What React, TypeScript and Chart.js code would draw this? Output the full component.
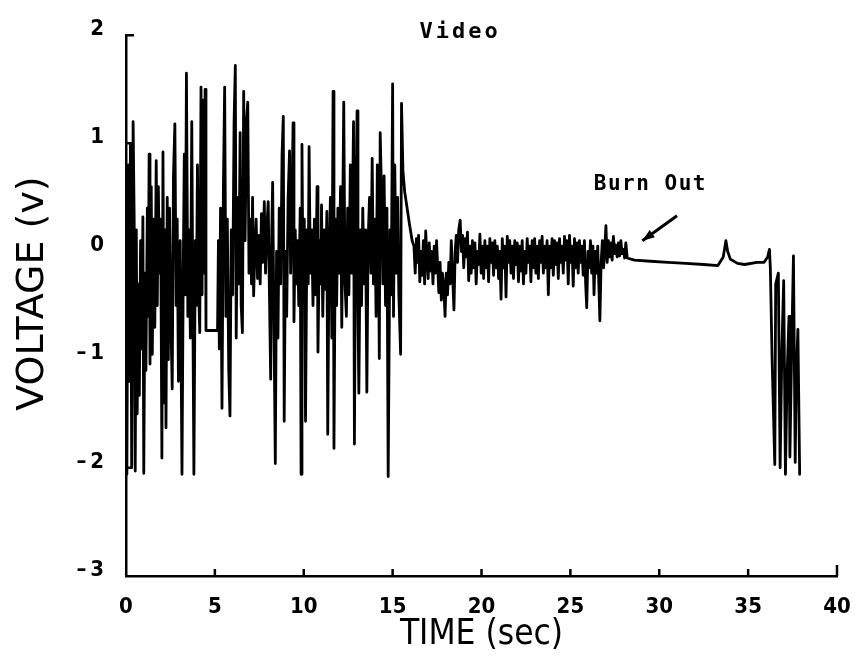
import React, { useEffect, useRef } from 'react';
import { Chart, registerables } from 'chart.js';
Chart.register(...registerables);

// ---- data (time in sec, voltage in V) ----
const burstTime = [0.0, 0.05, 0.12, 0.18, 0.25, 0.32, 0.4, 0.46, 0.52, 0.58, 0.63, 0.7, 0.75, 0.82, 0.88, 0.95, 1.0, 1.07, 1.12, 1.2, 1.25, 1.3, 1.35, 1.42, 1.48, 1.55, 1.62, 1.7, 1.76, 1.82, 1.88, 1.95, 2.02, 2.08, 2.14, 2.2, 2.25, 2.32, 2.38, 2.45, 2.52, 2.6, 2.67, 2.75, 2.82, 2.88, 2.95, 3.05, 3.15, 3.22, 3.28, 3.34, 3.4, 3.48, 3.55, 3.62, 3.7, 3.76, 3.82, 3.9, 3.96, 4.02, 4.08, 4.15, 4.22, 4.28, 4.34, 4.4, 4.45, 4.5, 5.15, 5.2, 5.25, 5.32, 5.4, 5.48, 5.55, 5.62, 5.7, 5.78, 5.85, 5.92, 6.0, 6.08, 6.15, 6.2, 6.28, 6.35, 6.42, 6.48, 6.55, 6.62, 6.7, 6.78, 6.85, 6.92, 7.0, 7.06, 7.12, 7.18, 7.25, 7.32, 7.4, 7.47, 7.55, 7.62, 7.7, 7.78, 7.85, 7.92, 8.0, 8.07, 8.14, 8.2, 8.25, 8.32, 8.4, 8.47, 8.55, 8.62, 8.7, 8.78, 8.85, 8.9, 8.97, 9.04, 9.12, 9.2, 9.26, 9.32, 9.4, 9.45, 9.52, 9.58, 9.65, 9.72, 9.8, 9.85, 9.9, 9.96, 10.03, 10.1, 10.18, 10.25, 10.3, 10.37, 10.45, 10.52, 10.6, 10.67, 10.75, 10.8, 10.88, 10.95, 11.0, 11.07, 11.15, 11.22, 11.3, 11.35, 11.42, 11.5, 11.58, 11.65, 11.7, 11.78, 11.85, 11.92, 12.0, 12.07, 12.14, 12.2, 12.25, 12.32, 12.4, 12.47, 12.54, 12.62, 12.7, 12.8, 12.85, 12.92, 13.0, 13.05, 13.1, 13.18, 13.25, 13.32, 13.4, 13.48, 13.55, 13.62, 13.7, 13.78, 13.85, 13.92, 14.0, 14.07, 14.14, 14.2, 14.25, 14.3, 14.38, 14.45, 14.52, 14.6, 14.68, 14.75, 14.85, 14.92, 15.0, 15.05, 15.12, 15.2, 15.28, 15.35, 15.45, 15.5, 15.58, 15.68, 15.8, 15.95, 16.1];
const burstVolt = [-0.05, -2.06, 0.8, -1.2, 1.0, -2.0, 1.2, 0.3, -2.03, 0.2, -1.5, -0.3, -1.33, 0.1, -0.9, 0.32, -2.05, -0.2, -1.1, 0.4, -0.6, 0.9, -1.04, 0.6, -0.95, 0.3, -0.7, 0.84, -0.5, 0.6, -0.2, 0.3, -1.91, 0.92, -1.4, 0.2, -1.63, 0.5, -1.0, 0.4, -0.6, -1.27, 0.7, 1.18, -0.5, 0.3, -1.2, 0.1, -2.06, -0.2, 0.9, -0.4, 1.65, -0.6, 0.2, -0.8, 1.2, -0.5, -2.06, 0.1, -0.5, 0.8, -0.3, -0.75, 1.52, -0.4, 1.4, -0.2, 1.5, -0.73, -0.73, 0.1, -0.9, 0.4, -1.45, 0.6, 1.52, -0.6, 0.3, -1.1, -1.52, 0.2, -0.4, 1.2, 1.72, -0.8, 0.5, -0.3, 1.1, -0.5, -0.75, 1.48, 0.1, 1.2, 1.38, -0.2, 0.3, -0.3, 0.5, -0.41, 0.0, 0.3, -0.25, 0.15, -0.3, 0.35, -0.1, 0.46, -0.2, 0.2, 0.46, -0.4, -1.18, 0.2, 0.64, -0.6, -1.96, 0.0, -0.8, 0.4, -0.3, 0.9, 1.25, -1.57, 0.0, -0.6, 0.5, 0.93, -0.2, 0.3, 1.19, -0.65, 0.2, -0.3, 0.1, -0.5, 0.4, -2.06, 0.99, -0.4, 0.3, -1.57, 0.2, -0.3, 0.97, -0.2, 0.2, -0.5, 0.3, -0.4, 0.6, -0.93, 0.1, -0.3, 0.43, -0.6, 0.2, -0.35, 0.37, -1.69, -0.1, 0.5, -0.8, 1.48, -1.82, 0.3, -0.5, 0.4, -0.2, 0.6, -0.7, 0.5, 1.38, -0.3, -0.6, 0.4, -0.4, 0.8, -0.2, 1.2, -1.78, 0.3, 1.3, -0.5, -1.31, 0.2, -0.5, 0.4, -0.3, 0.2, -1.3, 0.1, 0.5, -0.2, 0.86, -0.3, 0.3, -0.6, 0.8, 0.2, -0.99, 1.1, 0.5, -0.3, 0.7, -0.5, 0.4, -2.08, 0.2, -0.4, 1.55, -0.6, 0.8, -0.2, 0.5, -0.4, -0.95, 1.37, 0.75, 0.55, 0.42, 0.25, 0.1];

const noiseTime = [16.2, 16.27, 16.34, 16.4, 16.46, 16.53, 16.6, 16.66, 16.73, 16.8, 16.86, 16.93, 17.0, 17.06, 17.13, 17.2, 17.27, 17.34, 17.4, 17.47, 17.54, 17.6, 17.67, 17.74, 17.8, 17.87, 17.95, 18.02, 18.09, 18.16, 18.23, 18.3, 18.37, 18.45, 18.52, 18.58, 18.65, 18.72, 18.8, 18.87, 18.94, 19.0, 19.07, 19.14, 19.21, 19.28, 19.35, 19.42, 19.49, 19.56, 19.63, 19.7, 19.77, 19.84, 19.91, 19.98, 20.05, 20.12, 20.19, 20.26, 20.33, 20.4, 20.47, 20.54, 20.61, 20.68, 20.75, 20.82, 20.89, 20.96, 21.03, 21.1, 21.17, 21.24, 21.31, 21.38, 21.45, 21.52, 21.59, 21.66, 21.73, 21.8, 21.87, 21.94, 22.01, 22.08, 22.15, 22.22, 22.29, 22.36, 22.43, 22.5, 22.57, 22.64, 22.71, 22.78, 22.85, 22.92, 22.99, 23.06, 23.13, 23.2, 23.27, 23.34, 23.41, 23.48, 23.55, 23.62, 23.69, 23.76, 23.83, 23.9, 23.97, 24.04, 24.11, 24.18, 24.25, 24.32, 24.39, 24.46, 24.53, 24.6, 24.67, 24.74, 24.81, 24.88, 24.95, 25.02, 25.09, 25.16, 25.23, 25.3, 25.37, 25.44, 25.51, 25.58, 25.65, 25.72, 25.79, 25.86, 25.92, 25.99, 26.06, 26.13, 26.2, 26.27, 26.33, 26.4, 26.47, 26.54, 26.6, 26.66, 26.73, 26.8, 26.87, 26.94, 27.0, 27.07, 27.14, 27.21, 27.28, 27.35, 27.42, 27.49, 27.56, 27.63, 27.7, 27.77, 27.84, 27.91, 27.98, 28.05, 28.12, 28.2];
const noiseVolt = [0.05, -0.2, 0.12, -0.1, 0.15, -0.28, 0.0, -0.22, 0.1, -0.3, 0.19, -0.05, -0.25, 0.08, -0.18, 0.0, -0.3, 0.05, -0.2, 0.1, -0.15, -0.38, -0.1, -0.45, -0.2, -0.3, -0.6, -0.2, -0.4, -0.1, -0.3, 0.1, -0.2, -0.54, 0.0, 0.15, -0.1, 0.2, 0.29, 0.0, 0.15, -0.15, 0.12, -0.05, 0.18, -0.27, 0.05, -0.2, 0.1, -0.15, 0.08, -0.3, 0.0, -0.12, 0.16, -0.2, 0.05, -0.25, 0.1, -0.15, 0.05, -0.28, 0.12, -0.1, 0.08, -0.22, 0.1, -0.15, 0.05, -0.25, 0.0, -0.44, 0.12, -0.15, 0.05, -0.42, 0.14, -0.1, 0.1, -0.2, 0.05, -0.25, 0.1, -0.12, 0.08, -0.28, 0.05, -0.18, 0.1, -0.3, 0.0, -0.2, 0.12, -0.1, 0.05, -0.28, 0.1, -0.15, 0.12, -0.2, 0.05, -0.25, 0.1, -0.1, 0.14, -0.2, 0.05, -0.15, 0.1, -0.4, 0.05, -0.15, 0.12, -0.22, 0.1, -0.12, 0.08, -0.25, 0.12, -0.1, 0.05, -0.2, 0.14, -0.08, 0.1, -0.3, 0.15, -0.1, 0.05, -0.32, 0.12, -0.15, 0.08, -0.2, 0.1, -0.1, 0.05, -0.22, 0.1, -0.3, -0.52, 0.0, -0.15, 0.1, -0.2, 0.05, -0.4, 0.0, -0.2, 0.05, -0.3, -0.64, -0.1, 0.1, -0.15, 0.05, 0.24, -0.1, 0.1, -0.05, 0.08, -0.08, 0.14, -0.02, 0.06, -0.05, 0.08, -0.04, 0.1, -0.02, 0.02, -0.06, 0.08, -0.06];

const quietTime = [28.6, 29.5, 30.5, 31.5, 32.5, 33.3, 33.6, 33.75, 33.85, 34.0, 34.4, 34.8, 35.5, 35.9, 36.1, 36.2, 36.25];
const quietVolt = [-0.08, -0.09, -0.1, -0.11, -0.12, -0.13, -0.05, 0.1, 0.0, -0.07, -0.11, -0.12, -0.1, -0.1, -0.05, 0.02, -0.15];

const failTime = [36.35, 36.5, 36.55, 36.7, 36.8, 36.9, 37.0, 37.1, 37.2, 37.3, 37.35, 37.45, 37.55, 37.65, 37.7, 37.8, 37.9];
const failVolt = [-1.0, -1.97, -0.3, -0.2, -2.0, -0.9, -0.27, -2.06, -1.1, -0.6, -1.9, -0.9, -0.04, -1.95, -1.2, -0.72, -2.06];

const xTicks = [0, 5, 10, 15, 20, 25, 30, 35, 40];
const yTicks = [-3, -2, -1, 0, 1, 2];

const titleText = 'Video';
const noteText = 'Burn Out';
const xTitle = 'TIME (sec)';
const yTitle = '  VOLTAGE (v)';

// annotation anchors in data units
const titleAt = { t: 18.8, v: 2.03 };
const noteAt = { t: 29.5, v: 0.62 };
const arrowFrom = { t: 31.0, v: 0.33 };
const arrowTo = { t: 29.05, v: 0.1 };

const tickFont = "'DejaVu Sans Condensed', 'Liberation Sans', sans-serif";

const decor = {
  id: 'decor',
  afterDraw(chart: any) {
    const { ctx, chartArea: a, scales } = chart;
    const x = scales.x;
    const y = scales.y;
    ctx.save();
    ctx.strokeStyle = '#000';
    ctx.fillStyle = '#000';
    ctx.lineWidth = 2.5;
    ctx.beginPath();
    xTicks.forEach((v) => {
      if (v === 0) return;
      const px = x.getPixelForValue(v);
      ctx.moveTo(px, a.bottom);
      ctx.lineTo(px, a.bottom - (v === 40 ? 11 : 7));
    });
    yTicks.forEach((v) => {
      if (v === -3) return;
      const py = y.getPixelForValue(v);
      ctx.moveTo(a.left, py);
      ctx.lineTo(a.left + (v === 2 ? 8 : 5), py);
    });
    ctx.stroke();

    ctx.textAlign = 'center';
    ctx.textBaseline = 'middle';
    ctx.font = "bold 22px 'DejaVu Sans Mono', monospace";
    (ctx as any).letterSpacing = '3px';
    ctx.fillText(titleText, x.getPixelForValue(titleAt.t), y.getPixelForValue(titleAt.v));
    ctx.font = "bold 21px 'DejaVu Sans Mono', monospace";
    (ctx as any).letterSpacing = '1.5px';
    ctx.fillText(noteText, x.getPixelForValue(noteAt.t), y.getPixelForValue(noteAt.v));

    const x1 = x.getPixelForValue(arrowFrom.t), y1 = y.getPixelForValue(arrowFrom.v);
    const x2 = x.getPixelForValue(arrowTo.t), y2 = y.getPixelForValue(arrowTo.v);
    ctx.beginPath();
    ctx.moveTo(x1, y1);
    ctx.lineTo(x2, y2);
    ctx.lineWidth = 3;
    ctx.stroke();
    const ang = Math.atan2(y2 - y1, x2 - x1);
    const L = 13;
    ctx.beginPath();
    ctx.moveTo(x2, y2);
    ctx.lineTo(x2 - L * Math.cos(ang - 0.35), y2 - L * Math.sin(ang - 0.35));
    ctx.lineTo(x2 - L * Math.cos(ang + 0.35), y2 - L * Math.sin(ang + 0.35));
    ctx.closePath();
    ctx.fill();
    ctx.restore();
  },
};

export default function App() {
  const ref = useRef<HTMLCanvasElement | null>(null);
  useEffect(() => {
    if (!ref.current) return;
    const times = [...burstTime, ...noiseTime, ...quietTime, ...failTime];
    const volts = [...burstVolt, ...noiseVolt, ...quietVolt, ...failVolt];
    const pts = times.map((t, i) => ({ x: t, y: volts[i] }));
    const chart = new Chart(ref.current, {
      type: 'line',
      data: {
        datasets: [
          {
            data: pts,
            borderColor: '#000',
            borderWidth: 2.8,
            borderJoinStyle: 'round',
            borderCapStyle: 'round',
            pointRadius: 0,
            tension: 0,
            fill: false,
          },
        ],
      },
      options: {
        responsive: false,
        animation: false,
        devicePixelRatio: 1,
        layout: { padding: { top: 30, right: 21, left: 0, bottom: 0 } },
        plugins: { legend: { display: false }, tooltip: { enabled: false }, title: { display: false } },
        scales: {
          x: {
            type: 'linear',
            min: 0,
            max: 40,
            afterFit: (s: any) => {
              s.height = 93;
              s.paddingLeft = 0;
              s.paddingRight = 0;
            },
            afterBuildTicks: (s: any) => { s.ticks = xTicks.map((v) => ({ value: v })); },
            grid: { display: false, drawTicks: false },
            border: { display: true, color: '#000', width: 2.5 },
            ticks: {
              padding: 18,
              color: '#000',
              maxRotation: 0,
              autoSkip: false,
              font: { family: tickFont, size: 22, weight: 'bold' },
              callback: (v: any) => String(v),
            },
            title: {
              display: true,
              text: xTitle,
              color: '#000',
              font: { family: "'DejaVu Sans Condensed', 'DejaVu Sans', sans-serif", size: 35 },
              padding: { top: 0, bottom: 13 },
            },
          },
          y: {
            type: 'linear',
            min: -3,
            max: 2,
            afterFit: (s: any) => { s.width = 126; },
            afterBuildTicks: (s: any) => { s.ticks = yTicks.map((v) => ({ value: v })); },
            grid: { display: false, drawTicks: false },
            border: { display: true, color: '#000', width: 2.5 },
            ticks: {
              padding: 22,
              labelOffset: -6,
              color: '#000',
              autoSkip: false,
              font: { family: tickFont, size: 22, weight: 'bold' },
              callback: (v: any) => (v < 0 ? '\u2013\u2009' + Math.abs(v) : String(v)),
            },
            title: {
              display: true,
              text: yTitle,
              color: '#000',
              font: { family: "'DejaVu Sans', sans-serif", size: 38 },
              padding: { top: 10, bottom: 0 },
            },
          },
        },
      },
      plugins: [decor],
    });
    return () => chart.destroy();
  }, []);
  return (
    <canvas
      ref={ref}
      width={858}
      height={669}
      style={{ position: 'absolute', left: 0, top: 0, width: 858, height: 669 }}
    />
  );
}
